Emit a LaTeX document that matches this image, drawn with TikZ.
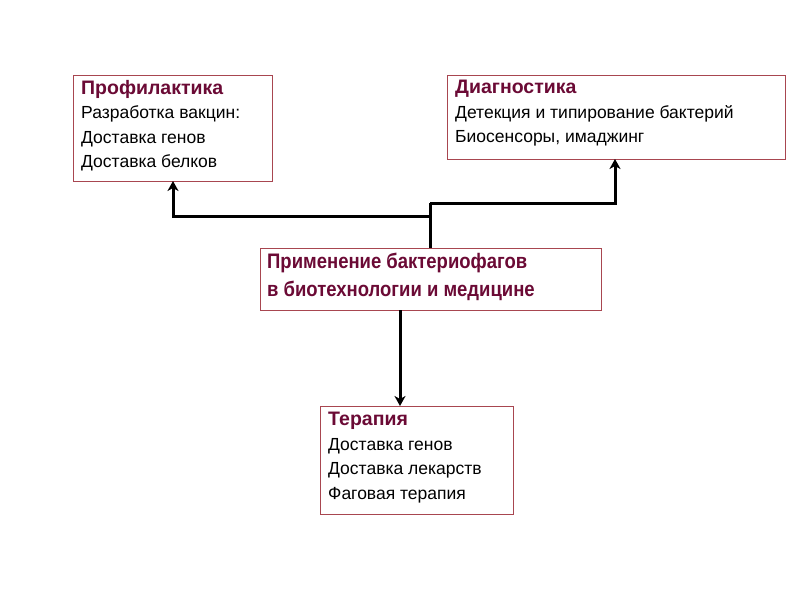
\documentclass[tikz,border=0pt]{standalone}
\usetikzlibrary{arrows.meta}
\usepackage{fontspec}
\setmainfont{Liberation Sans}
\definecolor{tcol}{HTML}{6B0A35}
\definecolor{bcol}{HTML}{A84650}
\begin{document}
\begin{tikzpicture}[x=1pt,y=-1pt,
  box/.style={draw=bcol,line width=1.2pt,fill=white,inner sep=0pt},
  conn/.style={line width=3pt,-{Stealth[length=10pt,width=11pt,inset=3pt]}},
  ln/.style={line width=3pt}]
\useasboundingbox (0,0) rectangle (800,600);
\node[box,minimum width=199,minimum height=106,anchor=north west] (p) at (73,75) {};
\node[anchor=north west,align=left,font=\fontsize{17.5}{24.5}\selectfont,inner sep=0pt] at (81,80)
 {\textcolor{tcol}{\fontsize{19.5}{24.5}\selectfont\bfseries Профилактика}\\Разработка вакцин:\\Доставка генов\\Доставка белков};
\node[box,minimum width=338,minimum height=84,anchor=north west] (d) at (447,75) {};
\node[anchor=north west,align=left,font=\fontsize{17.5}{24.5}\selectfont,inner sep=0pt] at (455,80)
 {\textcolor{tcol}{\fontsize{19.5}{24.5}\selectfont\bfseries Диагностика}\\Детекция и типирование бактерий\\Биосенсоры, имаджинг};
\node[box,minimum width=341,minimum height=62,anchor=north west] (c) at (260,248) {};
\node[anchor=north west,align=left,font=\fontsize{21}{28}\selectfont\bfseries,text=tcol,inner sep=0pt] at (267,253)
 {\scalebox{0.88}[1]{Применение бактериофагов}\\\scalebox{0.88}[1]{в биотехнологии и медицине}};
\node[box,minimum width=193,minimum height=108,anchor=north west] (t) at (320,406) {};
\node[anchor=north west,align=left,font=\fontsize{17.5}{24.5}\selectfont,inner sep=0pt] at (328,412)
 {\textcolor{tcol}{\fontsize{19.5}{24.5}\selectfont\bfseries Терапия}\\Доставка генов\\Доставка лекарств\\Фаговая терапия};
\coordinate (j1) at (430,216);
\coordinate (j2) at (430,203);
\draw[ln] (c.north -| j1) -- (j2);
\draw[conn] (j1) -- (173,216) -- (173,181);
\draw[conn] (j2) -- (615,203) -- (615,159);
\draw[conn] (400,310) -- (t.north -| 400,0);
\end{tikzpicture}
\end{document}
